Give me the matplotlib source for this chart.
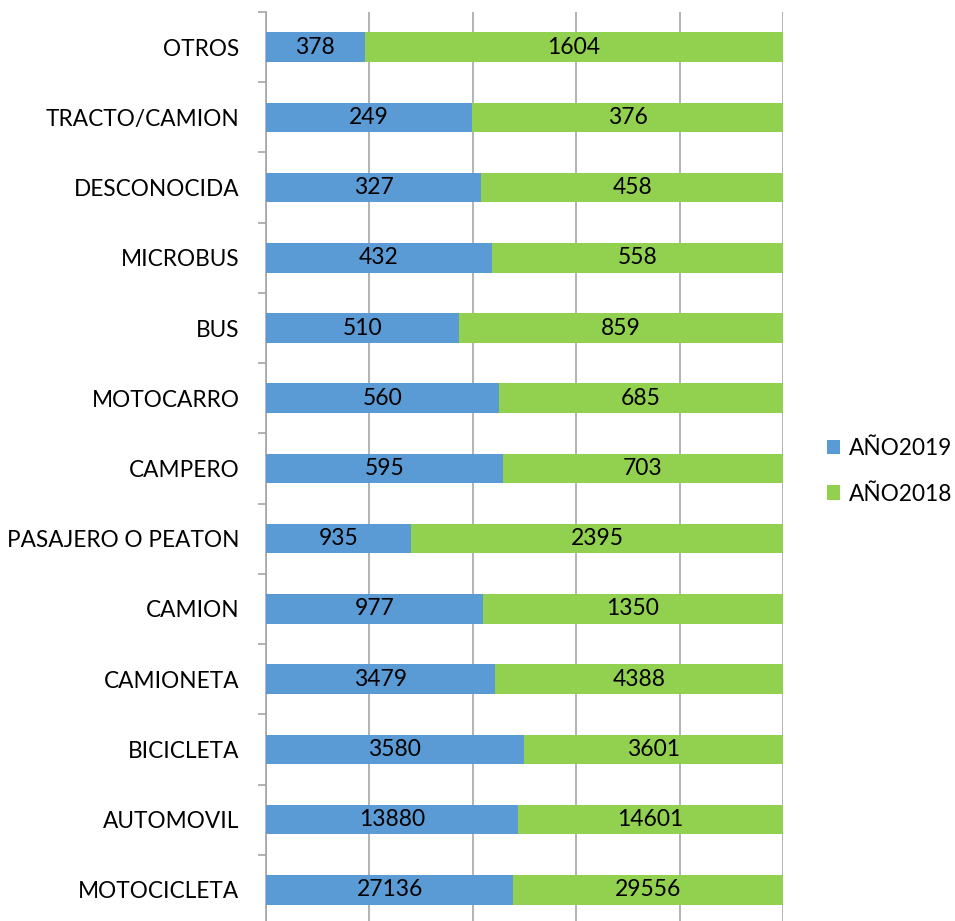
import numpy as np
import matplotlib.pyplot as plt

# Datos (de abajo hacia arriba)
categorias = ["MOTOCICLETA", "AUTOMOVIL", "BICICLETA", "CAMIONETA", "CAMION",
              "PASAJERO O PEATON", "CAMPERO", "MOTOCARRO", "BUS", "MICROBUS",
              "DESCONOCIDA", "TRACTO/CAMION", "OTROS"]
anio2019 = [27136, 13880, 3580, 3479, 977, 935, 595, 560, 510, 432, 327, 249, 378]
anio2018 = [29556, 14601, 3601, 4388, 1350, 2395, 703, 685, 859, 558, 458, 376, 1604]

plt.rcParams['font.family'] = ['Lato', 'DejaVu Sans']

azul = "#5B9BD5"
verde = "#92D050"

a = np.array(anio2019, dtype=float)
b = np.array(anio2018, dtype=float)
total = a + b
pa = a / total * 100
pb = b / total * 100
y = np.arange(len(categorias))

fig = plt.figure(figsize=(9.55, 9.21), dpi=100)
ax = fig.add_axes([0.2785, -0.0043, 0.5414, 0.9913])

ax.barh(y, pa, height=0.42, color=azul, label="AÑO2019", zorder=3)
ax.barh(y, pb, left=pa, height=0.42, color=verde, label="AÑO2018", zorder=3)

# Etiquetas de valores centradas en cada segmento
for i in range(len(y)):
    ax.text(pa[i] / 2, y[i], str(anio2019[i]), ha="center", va="center",
            fontsize=16.5, color="black", zorder=4)
    ax.text(pa[i] + pb[i] / 2, y[i], str(anio2018[i]), ha="center", va="center",
            fontsize=16.5, color="black", zorder=4)

ax.set_xlim(0, 100)
ax.set_ylim(-0.5, len(categorias) - 0.5)
ax.set_xticks(np.arange(0, 101, 20))
ax.xaxis.grid(True, color="#A6A6A6", linewidth=1.2, zorder=0)
ax.tick_params(axis="x", length=0, labelbottom=False)

ax.set_yticks(y)
ax.set_yticklabels(categorias, fontsize=16.3)
ax.set_yticks(np.arange(-0.5, len(categorias), 1), minor=True)
ax.tick_params(axis="y", which="major", length=0, pad=19)
ax.tick_params(axis="y", which="minor", length=6, width=1.2, color="#A6A6A6")

for s in ["top", "right", "bottom"]:
    ax.spines[s].set_visible(False)
ax.spines["left"].set_color("#A6A6A6")
ax.spines["left"].set_linewidth(1.2)

ax.legend(loc="center left", bbox_to_anchor=(1.045, 0.497), frameon=False,
          fontsize=16.3, handlelength=0.6, handleheight=0.6, handletextpad=0.4,
          labelspacing=1.1)

fig.savefig("out.png", dpi=100)
